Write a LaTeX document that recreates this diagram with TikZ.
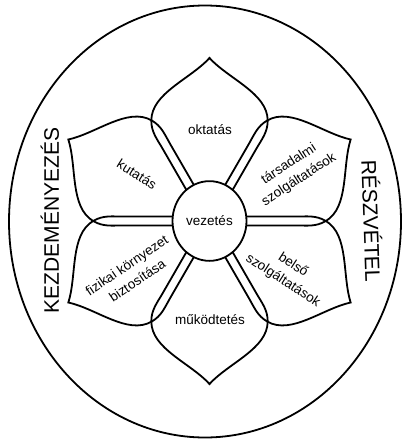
\documentclass[tikz,border=0pt]{standalone}
\usepackage{fontspec}
\setmainfont{Liberation Sans}
\usepackage{tikz}
\usetikzlibrary{shapes.geometric}

\begin{document}
\begin{tikzpicture}[
  x=1pt, y=1pt,
  petalline/.style={line width=1.8pt, line join=miter},
  petal/.pic={
    \draw[petalline] (29.5,22.2) -- (72,46.7)
      .. controls (82.5,52.8) and (89,58.2) .. (100.5,58.2)
      .. controls (128,58) and (142,19) .. (163,0)
      .. controls (142,-19) and (128,-58) .. (100.5,-58.2)
      .. controls (89,-58.2) and (82.5,-52.8) .. (72,-46.7)
      -- (29.5,-22.2);
  },
  hub/.style={ellipse, draw, fill=white, line width=1.8pt, minimum width=74pt,
    minimum height=79.7pt, inner sep=0pt, font=\fontsize{13.5}{16}\selectfont},
  lbl/.style={font=\fontsize{13.5}{18.5}\selectfont, align=center, inner sep=0pt},
  big/.style={font=\fontsize{21}{25}\selectfont, inner sep=0pt},
  ]
  \useasboundingbox (-209.5,-219) rectangle (193.5,221);
  % outer ring
  \draw[line width=1.8pt] (-4.5,-0.5) ellipse [x radius=196pt, y radius=216pt];
  % six petals
  \begin{scope}[yscale=1.077]
    \foreach \a in {30,90,...,330}
      \pic[rotate=\a] {petal};
  \end{scope}
  \node[hub] (vez) at (0,0) {vezetés};
  \node[lbl] (okt) at (0.5,91) {oktatás};
  \node[lbl] (mukod) at (0.5,-99) {működtetés};
  \node[lbl, rotate=-32] (kut) at (-72.5,47) {kutatás};
  \node[lbl, rotate=33] (tars) at (84.5,49) {társadalmi\\szolgáltatások};
  \node[lbl, rotate=-33] (bel) at (78.5,-52) {belső\\szolgáltatások};
  \node[lbl, rotate=34] (fiz) at (-77.5,-52) {fizikai környezet\\biztosítása};
  \node[big, rotate=90] (kezd) at (-159.5,0.5) {KEZDEMÉNYEZÉS};
  \node[big, rotate=-88] (resz) at (163,0) {RÉSZVÉTEL};
\end{tikzpicture}
\end{document}
